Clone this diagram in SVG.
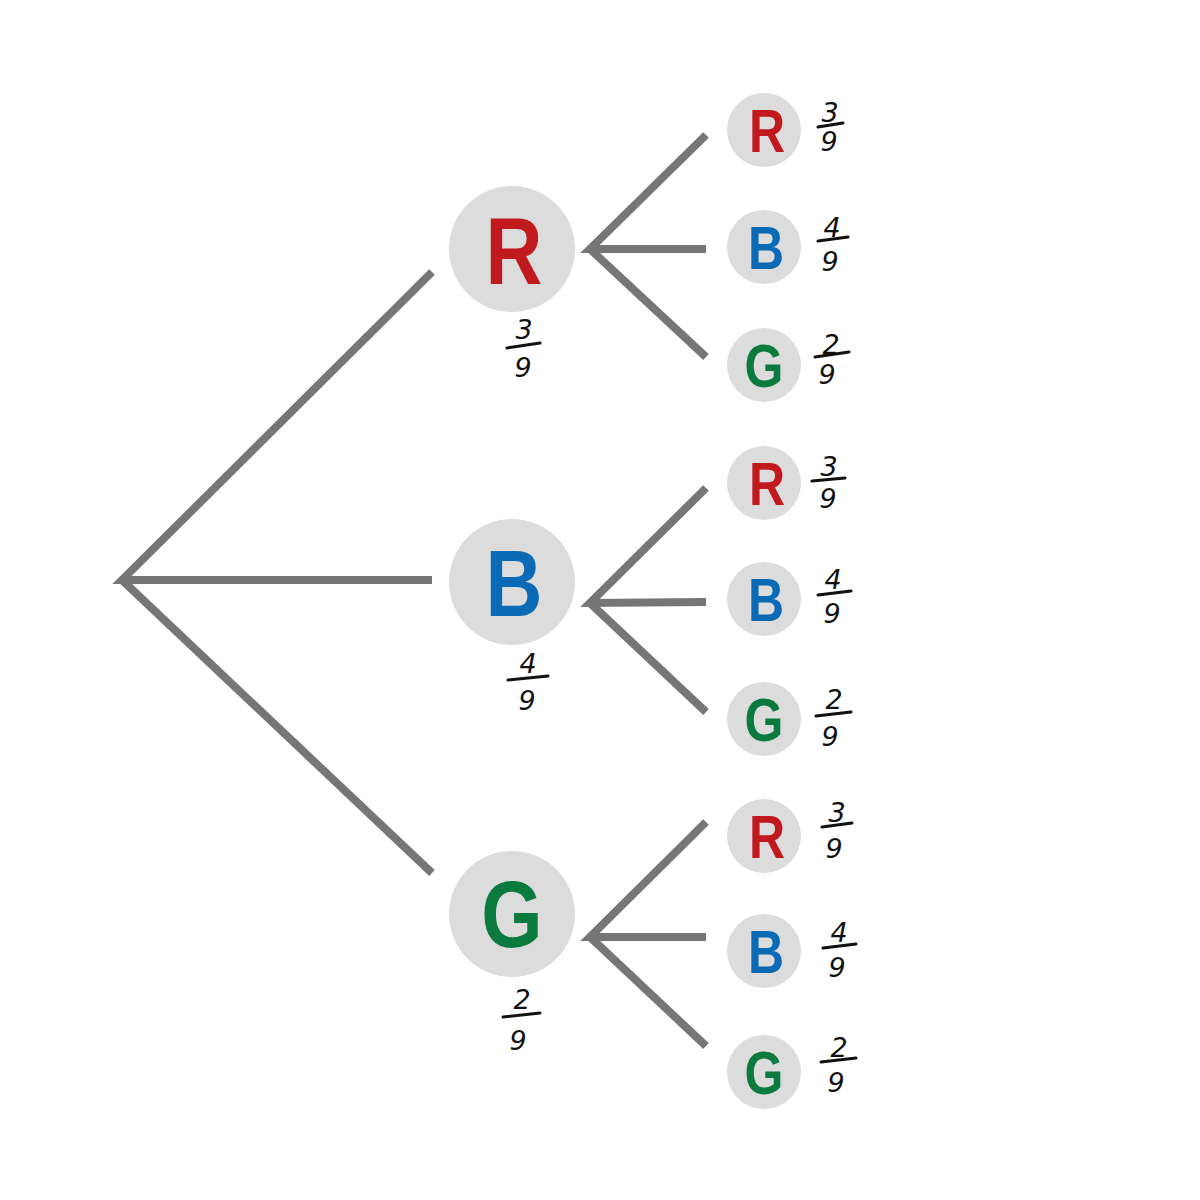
<svg xmlns="http://www.w3.org/2000/svg" width="1200" height="1200" viewBox="0 0 1200 1200">
<style>
.e{stroke:#767676;stroke-width:8;fill:none;stroke-linecap:butt}
.c{fill:#DCDCDC}
.L{font-family:"Liberation Sans",Arial,sans-serif;font-weight:bold;text-anchor:middle}
.big{font-size:95px}
.sm{font-size:61px}
.r{fill:#C0191E}.b{fill:#0A6AB5}.g{fill:#0B7A3E}
.f{font-family:"DejaVu Sans",sans-serif;font-style:italic;font-size:27px;fill:#111;text-anchor:middle}
.bar{stroke:#111;stroke-width:3;stroke-linecap:round}
</style>
<rect width="1200" height="1200" fill="#fff"/>
<g id="connectors">
<polyline class="e" points="432,272 122,580 432,580"/>
<line class="e" x1="122" y1="580" x2="432" y2="873"/>
<polyline class="e" points="706,135 590,249 706,249"/>
<line class="e" x1="590" y1="249" x2="706" y2="357"/>
<polyline class="e" points="706,488 590,603 706,602"/>
<line class="e" x1="590" y1="603" x2="706" y2="712"/>
<polyline class="e" points="706,822 590,937 706,937"/>
<line class="e" x1="590" y1="937" x2="706" y2="1046"/>
</g>
<g id="nR"><circle class="c" cx="512" cy="249" r="63"/><text class="L big r" transform="translate(514,284) scale(0.83,1)">R</text>
<text class="f" x="524" y="339">3</text><line class="bar" x1="507" y1="348" x2="540" y2="343"/><text class="f" x="523" y="377">9</text></g>
<g id="nB"><circle class="c" cx="512" cy="582" r="63"/><text class="L big b" transform="translate(514,616) scale(0.83,1)">B</text>
<text class="f" x="528" y="673">4</text><line class="bar" x1="508" y1="680" x2="548" y2="676"/><text class="f" x="527" y="710">9</text></g>
<g id="nG"><circle class="c" cx="512" cy="914" r="63"/><text class="L big g" transform="translate(512,947) scale(0.83,1)">G</text>
<text class="f" x="522" y="1009">2</text><line class="bar" x1="503" y1="1017" x2="540" y2="1013"/><text class="f" x="518" y="1050">9</text></g>
<g id="nRR"><circle class="c" cx="764" cy="130" r="37"/><text class="L sm r" transform="translate(767,152) scale(0.82,1)">R</text>
<text class="f" x="830" y="122">3</text><line class="bar" x1="818" y1="127" x2="843" y2="123"/><text class="f" x="829" y="151">9</text></g>
<g id="nRB"><circle class="c" cx="764" cy="247" r="37"/><text class="L sm b" transform="translate(766,269) scale(0.82,1)">B</text>
<text class="f" x="832" y="237">4</text><line class="bar" x1="818" y1="241" x2="848" y2="237"/><text class="f" x="830" y="271">9</text></g>
<g id="nRG"><circle class="c" cx="764" cy="365" r="37"/><text class="L sm g" transform="translate(764,387) scale(0.82,1)">G</text>
<text class="f" x="831" y="354">2</text><line class="bar" x1="815" y1="357" x2="849" y2="352"/><text class="f" x="827" y="384">9</text></g>
<g id="nBR"><circle class="c" cx="764" cy="483" r="37"/><text class="L sm r" transform="translate(767,505) scale(0.82,1)">R</text>
<text class="f" x="829" y="476">3</text><line class="bar" x1="812" y1="481" x2="845" y2="478"/><text class="f" x="828" y="508">9</text></g>
<g id="nBB"><circle class="c" cx="764" cy="599" r="37"/><text class="L sm b" transform="translate(766,621) scale(0.82,1)">B</text>
<text class="f" x="833" y="589">4</text><line class="bar" x1="818" y1="595" x2="851" y2="591"/><text class="f" x="832" y="623">9</text></g>
<g id="nBG"><circle class="c" cx="764" cy="719" r="37"/><text class="L sm g" transform="translate(764,741) scale(0.82,1)">G</text>
<text class="f" x="834" y="709">2</text><line class="bar" x1="816" y1="716" x2="851" y2="712"/><text class="f" x="830" y="746">9</text></g>
<g id="nGR"><circle class="c" cx="764" cy="836" r="37"/><text class="L sm r" transform="translate(767,858) scale(0.82,1)">R</text>
<text class="f" x="837" y="822">3</text><line class="bar" x1="822" y1="827" x2="852" y2="823"/><text class="f" x="834" y="858">9</text></g>
<g id="nGB"><circle class="c" cx="764" cy="951" r="37"/><text class="L sm b" transform="translate(766,973) scale(0.82,1)">B</text>
<text class="f" x="839" y="942">4</text><line class="bar" x1="823" y1="948" x2="856" y2="944"/><text class="f" x="837" y="977">9</text></g>
<g id="nGG"><circle class="c" cx="764" cy="1072" r="37"/><text class="L sm g" transform="translate(764,1094) scale(0.82,1)">G</text>
<text class="f" x="839" y="1057">2</text><line class="bar" x1="821" y1="1062" x2="856" y2="1058"/><text class="f" x="836" y="1092">9</text></g>
</svg>
